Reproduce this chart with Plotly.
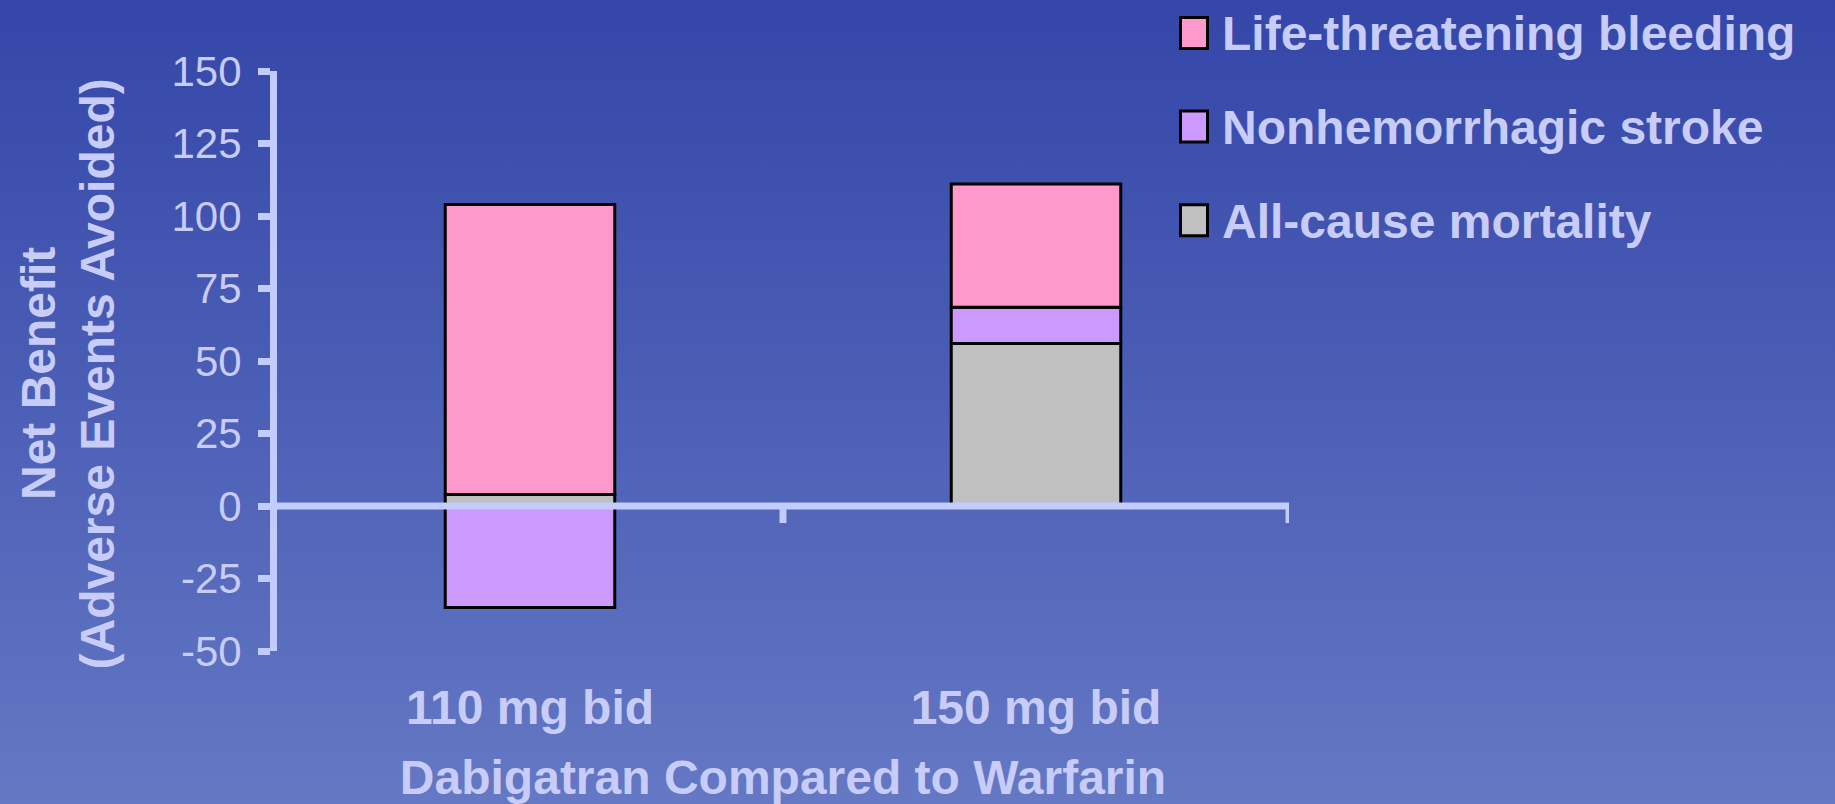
import base64
import plotly.graph_objects as go

# ---- data ----
categories = ["110 mg bid", "150 mg bid"]
series_names = ["All-cause mortality", "Nonhemorrhagic stroke", "Life-threatening bleeding"]
all_cause_mortality = [4, 56]
nonhemorrhagic_stroke = [-35, 12.5]
life_threatening_bleeding = [100, 42.5]
series_values = [all_cause_mortality, nonhemorrhagic_stroke, life_threatening_bleeding]
series_colors = ["#C0C0C0", "#CC99FF", "#FF99CC"]
y_ticks = [-50, -25, 0, 25, 50, 75, 100, 125, 150]
y_ticktext = [str(v) for v in y_ticks]
y_title_lines = ["Net Benefit", "(Adverse Events Avoided)"]
x_title = "Dabigatran Compared to Warfarin"

# ---- layout geometry (pixels) ----
W, H = 1835, 804
L, R, T, B = 277, 546, 71, 153
PW, PH = W - L - R, H - T - B

def px_x(px):
    return (px - L) / PW

def px_y(py):
    return 1 - (py - T) / PH

TEXT = "#C8CCF8"
LINE = "#C2CCFF"
FONT = "Liberation Sans, Arial, sans-serif"

fig = go.Figure()
for name, vals, col in zip(series_names, series_values, series_colors):
    fig.add_trace(go.Bar(
        x=categories, y=vals, name=name, showlegend=False,
        marker=dict(color=col, line=dict(color="black", width=3)),
    ))

# background gradient
svg = ('<svg xmlns="http://www.w3.org/2000/svg" width="%d" height="%d">'
       '<defs><linearGradient id="g" x1="0" y1="0" x2="0" y2="1">'
       '<stop offset="0" stop-color="#3446A8"/><stop offset="1" stop-color="#6478C4"/>'
       '</linearGradient></defs><rect width="%d" height="%d" fill="url(#g)"/></svg>') % (W, H, W, H)
src = "data:image/svg+xml;base64," + base64.b64encode(svg.encode()).decode()

shapes = []
# zero line drawn over bars
shapes.append(dict(type="line", xref="paper", yref="y", x0=0, x1=1, y0=0, y1=0,
                   line=dict(color=LINE, width=7), layer="above"))
# category boundary ticks on zero line
for xv in [0.5, 1.5]:
    shapes.append(dict(type="line", xref="x", yref="y", ysizemode="pixel", yanchor=0,
                       x0=xv, x1=xv, y0=0, y1=-17, line=dict(color=LINE, width=7), layer="above"))

annotations = []
# manual legend (top entry = last series)
leg_names = list(reversed(series_names))
leg_colors = list(reversed(series_colors))
for i, (nm, col) in enumerate(zip(leg_names, leg_colors)):
    cy = 33 + i * 93.6
    shapes.append(dict(type="rect", xref="paper", yref="paper",
                       x0=px_x(1180.5), x1=px_x(1207.5), y0=px_y(cy - 15.5), y1=px_y(cy + 15.5),
                       fillcolor=col, line=dict(color="black", width=3)))
    annotations.append(dict(xref="paper", yref="paper", x=px_x(1220), y=px_y(cy + 1),
                            xanchor="left", yanchor="middle", showarrow=False, text=nm,
                            font=dict(family=FONT, size=48, color=TEXT, weight="bold")))

# y-axis title (two rotated lines)
for j, line_txt in enumerate(y_title_lines):
    annotations.append(dict(xref="paper", yref="paper", x=px_x(38 + j * 58.5), y=px_y(374),
                            xanchor="center", yanchor="middle", showarrow=False, textangle=-90,
                            text=line_txt,
                            font=dict(family=FONT, size=48, color=TEXT, weight="bold")))

fig.update_layout(
    width=W, height=H,
    margin=dict(l=L, r=R, t=T, b=B, pad=0, autoexpand=False),
    paper_bgcolor="#4C5FB6", plot_bgcolor="rgba(0,0,0,0)",
    barmode="relative", bargap=0.665,
    showlegend=False,
    font=dict(family=FONT, color=TEXT),
    images=[dict(source=src, xref="paper", yref="paper", x=-L / PW, y=1 + T / PH,
                 sizex=W / PW, sizey=H / PH, xanchor="left", yanchor="top",
                 sizing="stretch", layer="below")],
    shapes=shapes,
    annotations=annotations,
    xaxis=dict(type="category", range=[-0.5, 1.5], showline=False, showgrid=False, zeroline=False,
               automargin=False, ticks="", ticklabelstandoff=24,
               tickfont=dict(family=FONT, size=48, color=TEXT, weight="bold"),
               title=dict(text=x_title, standoff=29,
                          font=dict(family=FONT, size=48, color=TEXT, weight="bold"))),
    yaxis=dict(range=[-50, 150], tickvals=y_ticks, ticktext=y_ticktext,
               showline=True, linewidth=7, linecolor=LINE, automargin=False,
               ticks="outside", ticklen=12, tickwidth=7, tickcolor=LINE,
               showgrid=False, zeroline=False, ticklabelstandoff=8,
               tickfont=dict(family=FONT, size=42, color=TEXT)),
)

fig.write_html("out.html", config={"displayModeBar": False},
               post_script="document.body.style.margin='0';document.body.style.overflow='hidden';")
